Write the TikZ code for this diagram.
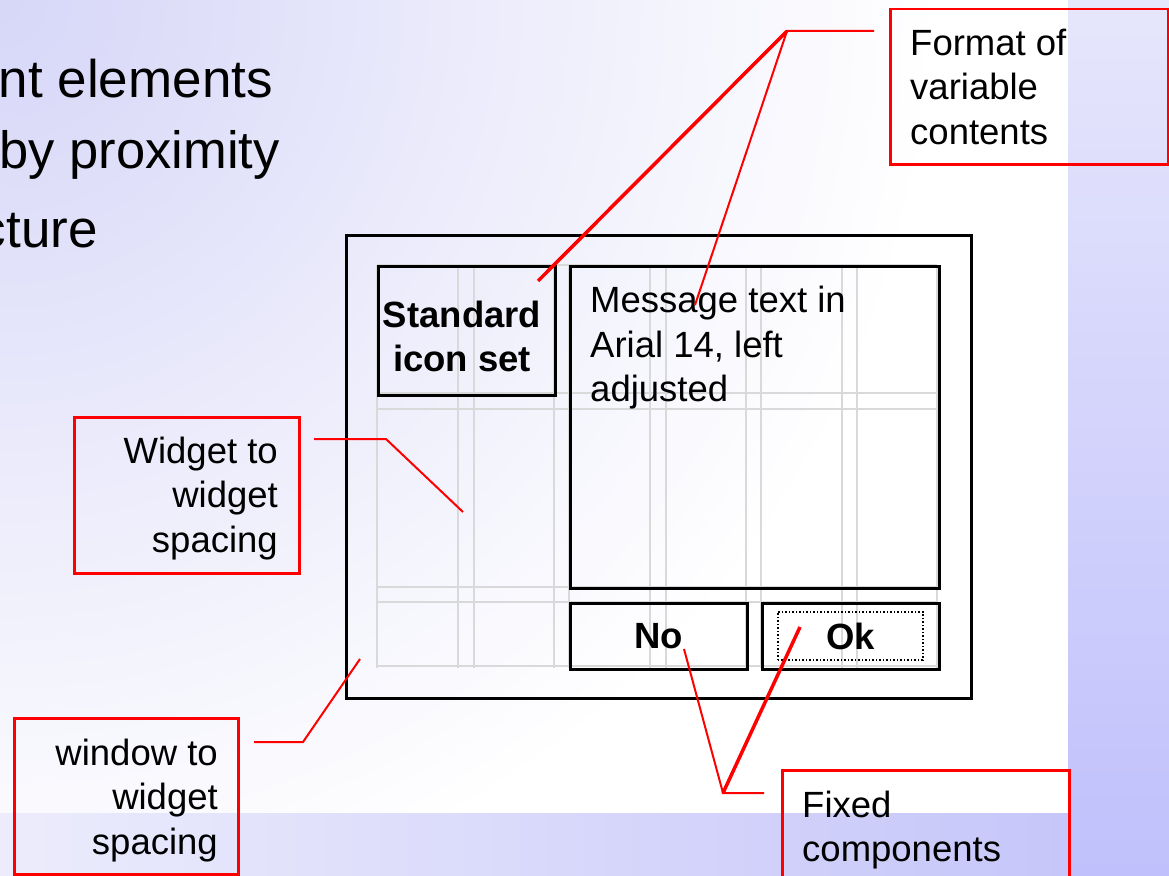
\documentclass[tikz,border=0pt]{standalone}
\usepackage{fontspec}
\setmainfont{Liberation Sans}
\definecolor{bgA}{RGB}{214,214,248}
\definecolor{stripTop}{RGB}{230,230,252}
\definecolor{stripBot}{RGB}{192,192,252}
\definecolor{botL}{RGB}{236,236,252}
\definecolor{botR}{RGB}{198,198,250}
\definecolor{gridgray}{RGB}{217,217,217}
\begin{document}
\begin{tikzpicture}[x=1pt,y=-1pt,
  redbox/.style={draw=red, line width=2.5pt, inner sep=0pt, anchor=north west},
  blackbox/.style={draw=black, line width=2.5pt, inner sep=0pt, anchor=north west},
  lead/.style={draw=red, line width=2pt},
  leadthick/.style={draw=red, line width=3.5pt},
  gridline/.style={draw=gridgray, line width=2pt},
  lbl/.style={font=\fontsize{36.5}{44.5}\selectfont, inner sep=0pt},
  blbl/.style={font=\fontsize{36.5}{44.5}\selectfont\bfseries, inner sep=0pt},
  bigtxt/.style={font=\fontsize{53}{60}\selectfont, inner sep=0pt, anchor=base east}
]
\useasboundingbox (0,0) rectangle (1169,875);
\clip (0,0) rectangle (1169,875);
% background
\fill[white] (0,0) rectangle (1068,813);
\begin{scope}
  \clip (0,0) rectangle (1068,813);
  \foreach \i in {40,39,...,1}{
    \pgfmathsetmacro\rr{\i*23.75}
    \pgfmathsetmacro\pp{100-\i*2.5}
    \fill[bgA!\pp!white] (0,0) circle (\rr pt);
  }
\end{scope}
\shade[top color=stripTop, bottom color=stripBot] (1068,0) rectangle (1169,875);
\shade[left color=botL, right color=botR] (0,813) rectangle (1068,875);

% title text fragments
\node[bigtxt] (t1) at (273,97) {nt elements};
\node[bigtxt, font=\fontsize{52.5}{58}\selectfont] (t2) at (280,168) {by proximity};
\node[bigtxt] (t3) at (98,247) {cture};

% grid
\foreach \x in {377,458,474,554,569,650,666,746,761,842,857,937}
  \draw[gridline] (\x,265) -- (\x,668);
\foreach \y in {265,393,409,587,602,666}
  \draw[gridline] (377,\y) -- (937,\y);

% window and widgets
\node[blackbox, minimum width=625pt, minimum height=463pt] (win) at (345,234) {};
\node[blackbox, minimum width=177pt, minimum height=129pt] (std) at (377,265) {};
\node[blackbox, minimum width=369pt, minimum height=322pt] (msg) at (569,265) {};
\node[blackbox, minimum width=177pt, minimum height=66pt, blbl] (no) at (569,602) {No};
\node[blackbox, minimum width=177pt, minimum height=66pt, blbl] (ok) at (761,602) {Ok};
\node[draw=black, dotted, line width=1.5pt, inner sep=0pt, anchor=north west,
      minimum width=145pt, minimum height=48pt] (okfocus) at (777,611) {};

\node[blbl, align=center, anchor=north] (stdtxt) at (462,300.5) {Standard\\icon set};
\node[lbl, align=left, anchor=north west] (msgtxt) at (590,286) {Message text in\\Arial 14, left\\adjusted};

% callout boxes
\node[redbox, minimum width=278pt, minimum height=155pt] (fmtbox) at (889,8) {};
\node[lbl, align=left, anchor=north west] (fmttxt) at (910,28.5) {Format of\\variable\\contents};

\node[redbox, minimum width=225pt, minimum height=156pt] (wwbox) at (73,416) {};
\node[lbl, align=right, anchor=north east] (wwtxt) at (278,436.5) {Widget to\\widget\\spacing};

\node[redbox, minimum width=224pt, minimum height=156pt] (winbox) at (13,717) {};
\node[lbl, align=right, anchor=north east] (wintxt) at (218,738.5) {window to\\widget\\spacing};

\node[redbox, minimum width=287pt, minimum height=156pt] (fixbox) at (781,769) {};
\node[lbl, align=left, anchor=north west] (fixtxt) at (802,790.5) {Fixed\\components};

% leaders
\coordinate (fA) at (874,31);
\coordinate (fB) at (787,31);
\coordinate (fS) at (538,281);
\coordinate (fM) at (695,305);
\draw[lead] (fA) -- (fB) -- (fM);
\draw[leadthick] (fB) -- (fS);

\coordinate (wA) at (314,439);
\coordinate (wB) at (386,439);
\coordinate (wC) at (463,512);
\draw[lead] (wA) -- (wB) -- (wC);

\coordinate (nA) at (254,742);
\coordinate (nB) at (303,742);
\coordinate (nC) at (360,659);
\draw[lead] (nA) -- (nB) -- (nC);

\coordinate (xA) at (764,793);
\coordinate (xB) at (723,793);
\coordinate (xN) at (684,649);
\coordinate (xO) at (800,627);
\draw[lead] (xA) -- (xB) -- (xN);
\draw[leadthick] (xB) -- (xO);
\end{tikzpicture}
\end{document}
